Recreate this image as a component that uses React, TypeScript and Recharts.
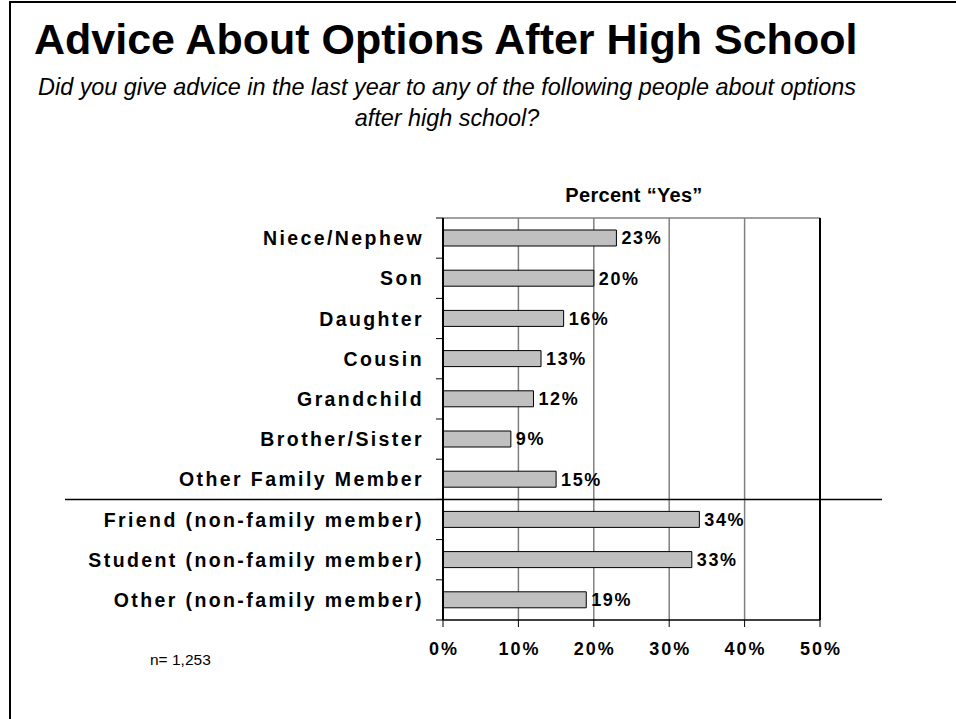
import { BarChart, Bar, XAxis, YAxis, CartesianGrid, ReferenceLine, LabelList } from 'recharts';

const categories = [
  'Niece/Nephew',
  'Son',
  'Daughter',
  'Cousin',
  'Grandchild',
  'Brother/Sister',
  'Other Family Member',
  'Friend (non-family member)',
  'Student (non-family member)',
  'Other (non-family member)',
];
const yesPercent = [23, 20, 16, 13, 12, 9, 15, 34, 33, 19];
const xTicks = [0, 10, 20, 30, 40, 50];

const data = categories.map((name, i) => ({ name, value: yesPercent[i] }));

const FONT = '"Liberation Sans", Arial, sans-serif';
const PLOT_H = 402;
const BAND = PLOT_H / categories.length;
const FAMILY_LAST = 6; // separator goes under "Other Family Member"

function CategoryTick(props: any) {
  const { x, y, payload, index } = props;
  const half = BAND / 2;
  return (
    <g>
      {index === 0 && <line x1={x - 7} x2={x} y1={y - half} y2={y - half} stroke="#000" />}
      <line x1={x - 7} x2={x} y1={y + half} y2={y + half} stroke="#000" />
      {index === FAMILY_LAST && (
        <line x1={x - 378} x2={x + 439} y1={y + half} y2={y + half} stroke="#000" strokeWidth={1.5} />
      )}
      <text
        x={x - 19}
        y={y}
        dy="0.36em"
        textAnchor="end"
        fontFamily={FONT}
        fontSize={19.5}
        fontWeight="bold"
        letterSpacing={2.4}
        fill="#000"
      >
        {payload.value}
      </text>
    </g>
  );
}

export default function App() {
  return (
    <div
      style={{
        position: 'absolute',
        left: 0,
        top: 0,
        width: 956,
        height: 719,
        background: '#fff',
        fontFamily: FONT,
        overflow: 'hidden',
      }}
    >
      <div
        style={{
          position: 'absolute',
          left: 9,
          top: 1,
          right: -4,
          bottom: -4,
          borderTop: '2.5px solid #000',
          borderLeft: '2.5px solid #000',
        }}
      />
      <BarChart
        width={956}
        height={719}
        data={data}
        layout="vertical"
        margin={{ top: 218, right: 136, bottom: 59, left: 13 }}
        style={{ position: 'absolute', left: 0, top: 0 }}
      >
        <CartesianGrid vertical horizontal={false} stroke="#808080" strokeWidth={1.5} />
        <ReferenceLine y={categories[0]} position="start" stroke="#808080" strokeWidth={1.5} />
        <ReferenceLine x={50} stroke="#000" strokeWidth={2} />
        <XAxis
          type="number"
          domain={[0, 50]}
          ticks={xTicks}
          height={40}
          tickFormatter={(v) => `${v}%`}
          axisLine={{ stroke: '#000', strokeWidth: 1.5 }}
          tickLine={{ stroke: '#000' }}
          tickSize={7}
          tickMargin={15}
          tick={{ fill: '#000', fontSize: 18, fontWeight: 'bold', fontFamily: FONT, letterSpacing: 2, dx: 1 }}
        />
        <YAxis
          type="category"
          dataKey="name"
          width={430}
          axisLine={{ stroke: '#000', strokeWidth: 2 }}
          tickLine={false}
          tickSize={0}
          tickMargin={0}
          interval={0}
          tick={<CategoryTick />}
        />
        <Bar dataKey="value" fill="#c0c0c0" stroke="#000" strokeWidth={1} barSize={16} isAnimationActive={false}>
          <LabelList
            dataKey="value"
            position="right"
            offset={5}
            formatter={(v: any) => `${v}%`}
            fill="#000"
            fontSize={18}
            fontWeight="bold"
            fontFamily={FONT}
            letterSpacing={1.6}
          />
        </Bar>
      </BarChart>
      <div
        style={{
          position: 'absolute',
          left: 34,
          top: 18,
          fontSize: 43,
          fontWeight: 'bold',
          lineHeight: 1,
          whiteSpace: 'nowrap',
        }}
      >
        Advice About Options After High School
      </div>
      <div
        style={{
          position: 'absolute',
          left: 0,
          width: 894,
          top: 72,
          fontSize: 23.4,
          fontStyle: 'italic',
          lineHeight: '31px',
          textAlign: 'center',
        }}
      >
        Did you give advice in the last year to any of the following people about options
        <br />
        after high school?
      </div>
      <div
        style={{
          position: 'absolute',
          left: 534,
          width: 200,
          top: 185,
          fontSize: 20,
          fontWeight: 'bold',
          lineHeight: 1,
          letterSpacing: 0.3,
          textAlign: 'center',
        }}
      >
        Percent “Yes”
      </div>
      <div style={{ position: 'absolute', left: 150, top: 652, fontSize: 15.5, lineHeight: '16px' }}>n= 1,253</div>
    </div>
  );
}
